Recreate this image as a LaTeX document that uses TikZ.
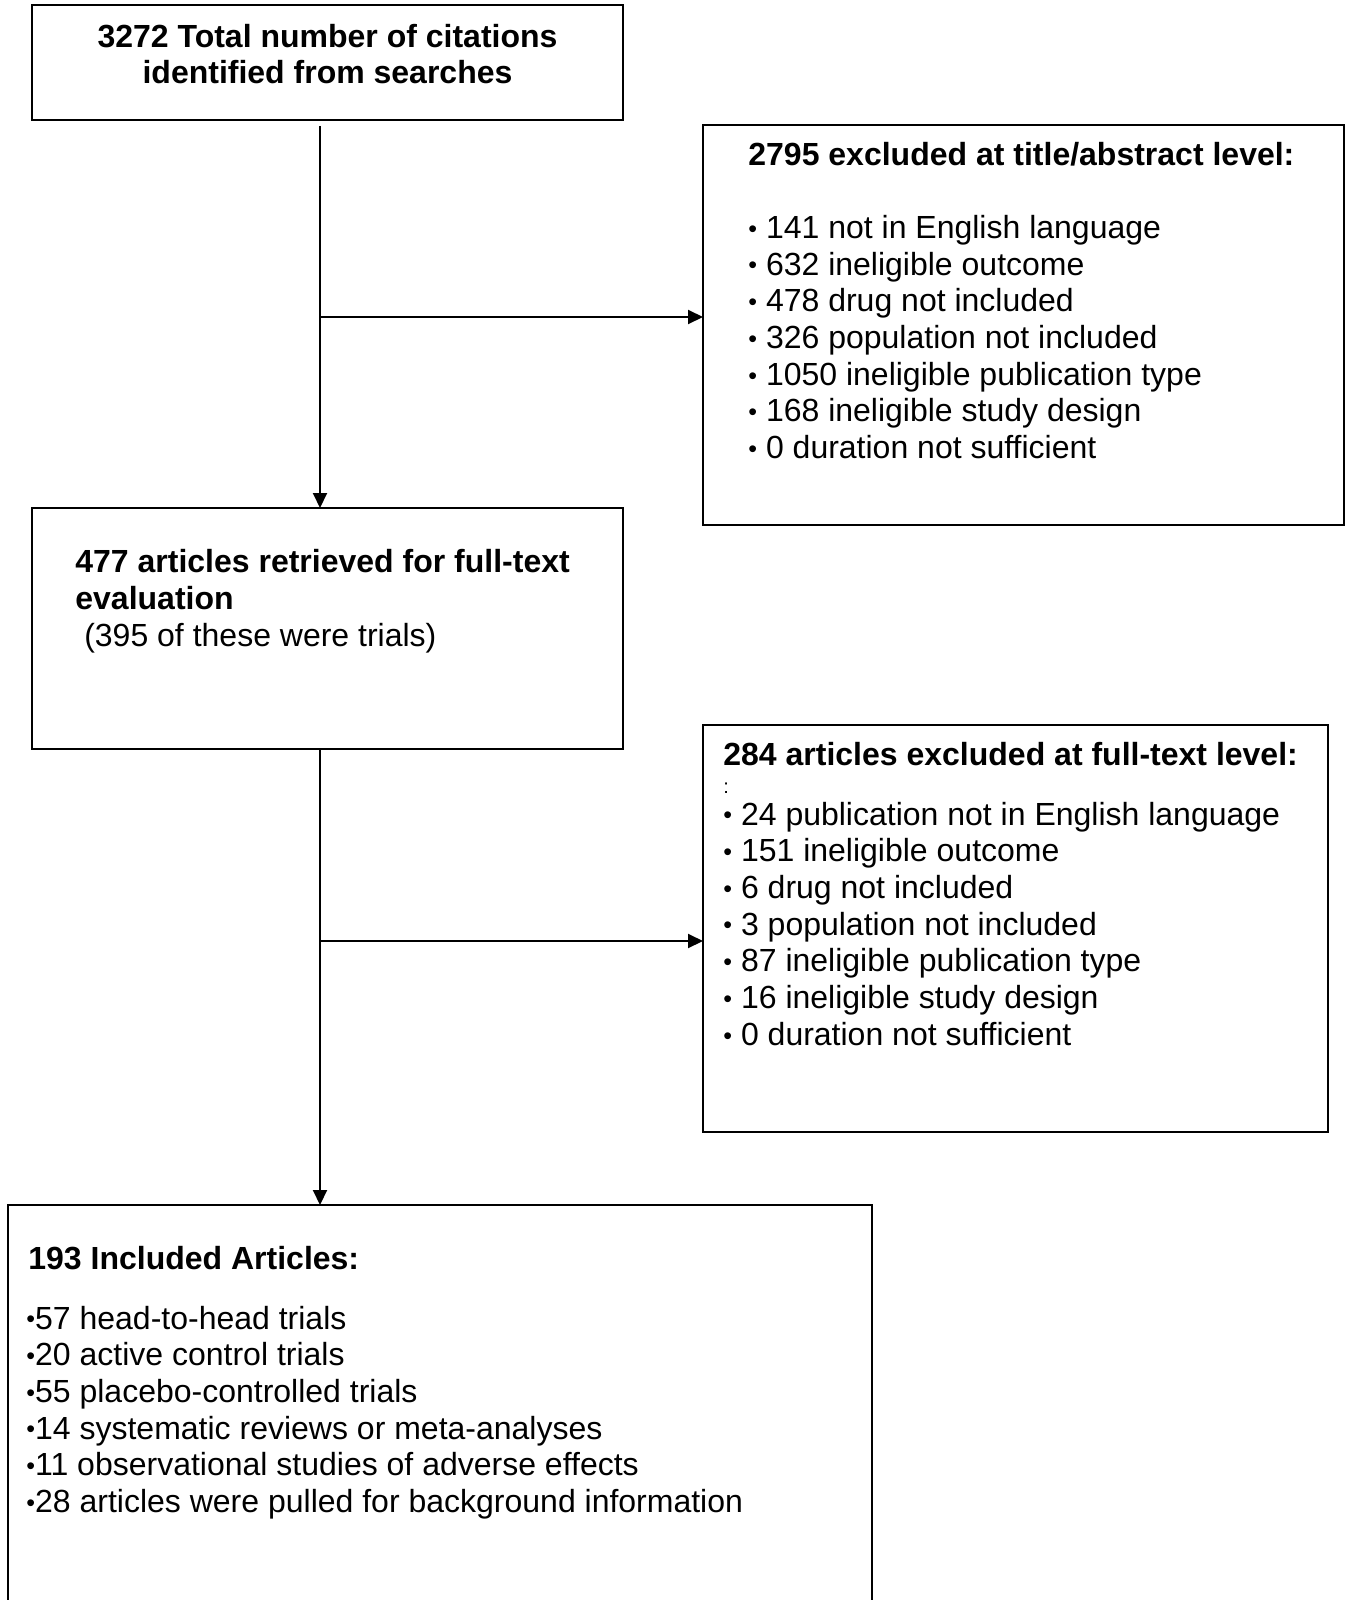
\documentclass[tikz,border=0pt]{standalone}
\usepackage{fontspec}
\setmainfont{Liberation Sans}
\usepackage{tikz}
\usetikzlibrary{arrows.meta,positioning,calc}

\newcommand{\bul}{{\fontsize{12.5}{0}\selectfont\raisebox{0.6pt}{•}}}

\begin{document}
\begin{tikzpicture}[
    x=0.5pt, y=-0.5pt,
    font=\fontsize{16}{18.35}\selectfont,
    % Box style for flow stages
    stage/.style={rectangle, draw=black, line width=1.1pt, anchor=north west, inner sep=0pt, outer sep=0pt},
    % Text line styles
    head/.style={anchor=base west, inner sep=0pt, font=\fontsize{16}{18.35}\selectfont\bfseries},
    item/.style={anchor=base west, inner sep=0pt},
    % Connector style
    flow/.style={line width=1pt, -{Triangle[length=7.5pt, width=7pt]}}
]
    \clip (0,0) rectangle (1350,1600);

    % --- BOXES ---
    \node[stage, minimum width=295.5pt, minimum height=57.5pt] (found) at (32,5) {};
    \node[stage, minimum width=320.5pt, minimum height=200pt] (exclA) at (703,125) {};
    \node[stage, minimum width=295.5pt, minimum height=120.5pt] (fulltext) at (32,508) {};
    \node[stage, minimum width=312.5pt, minimum height=203.5pt] (exclB) at (703,725) {};
    \node[stage, minimum width=432pt, minimum height=220pt] (incl) at (8,1205) {};

    % --- SEARCH RESULTS ---
    \node[anchor=base, inner sep=0pt, align=center, font=\fontsize{16}{18.35}\selectfont\bfseries] (foundTxt) at (327.5,84)
        {3272 Total number of citations\\identified from searches};

    % --- TITLE/ABSTRACT EXCLUSIONS ---
    \node[head] (exclAHead) at (748,165) {2795 excluded at title/abstract level:};
    \foreach \txt [count=\i] in {141 not in English language, 632 ineligible outcome,
        478 drug not included, 326 population not included,
        1050 ineligible publication type, 168 ineligible study design,
        0 duration not sufficient} {
        \node[item] (exclA\i) at (748, 165+36.7*\i+36.7) {\bul\ \txt};
    }

    % --- FULL-TEXT RETRIEVAL ---
    \node[head] (fullHead1) at (75,572) {477 articles retrieved for full-text};
    \node[head] (fullHead2) at (75,609) {evaluation};
    \node[item] (fullNote) at (75,646) {\ (395 of these were trials)};

    % --- FULL-TEXT EXCLUSIONS ---
    \node[head] (exclBHead) at (723,765) {284 articles excluded at full-text level:};
    \node[item, font=\fontsize{10}{11}\selectfont] (exclBColon) at (723,793) {:};
    \foreach \txt [count=\i] in {24 publication not in English language, 151 ineligible outcome,
        6 drug not included, 3 population not included,
        87 ineligible publication type, 16 ineligible study design,
        0 duration not sufficient} {
        \node[item] (exclB\i) at (723, 825+36.7*\i-36.7) {\bul\ \txt};
    }

    % --- INCLUDED ---
    \node[head] (inclHead) at (28,1269) {193 Included Articles:};
    \foreach \txt [count=\i] in {57 head-to-head trials, 20 active control trials,
        55 placebo-controlled trials, 14 systematic reviews or meta-analyses,
        11 observational studies of adverse effects,
        28 articles were pulled for background information} {
        \node[item] (incl\i) at (26, 1329+36.7*\i-36.7) {\bul\txt};
    }

    % --- CONNECTORS ---
    \coordinate (spineA) at (320,317);
    \coordinate (spineB) at (320,941);
    \draw[line width=1pt, shorten <=3pt] (spineA |- found.south) -- (spineA);
    \draw[flow] (spineA) -- (spineA |- fulltext.north);
    \draw[flow] (spineA) -- (spineA -| exclA.west);
    \draw[line width=1pt] (spineB |- fulltext.south) -- (spineB);
    \draw[flow] (spineB) -- (spineB |- incl.north);
    \draw[flow] (spineB) -- (spineB -| exclB.west);

\end{tikzpicture}
\end{document}
